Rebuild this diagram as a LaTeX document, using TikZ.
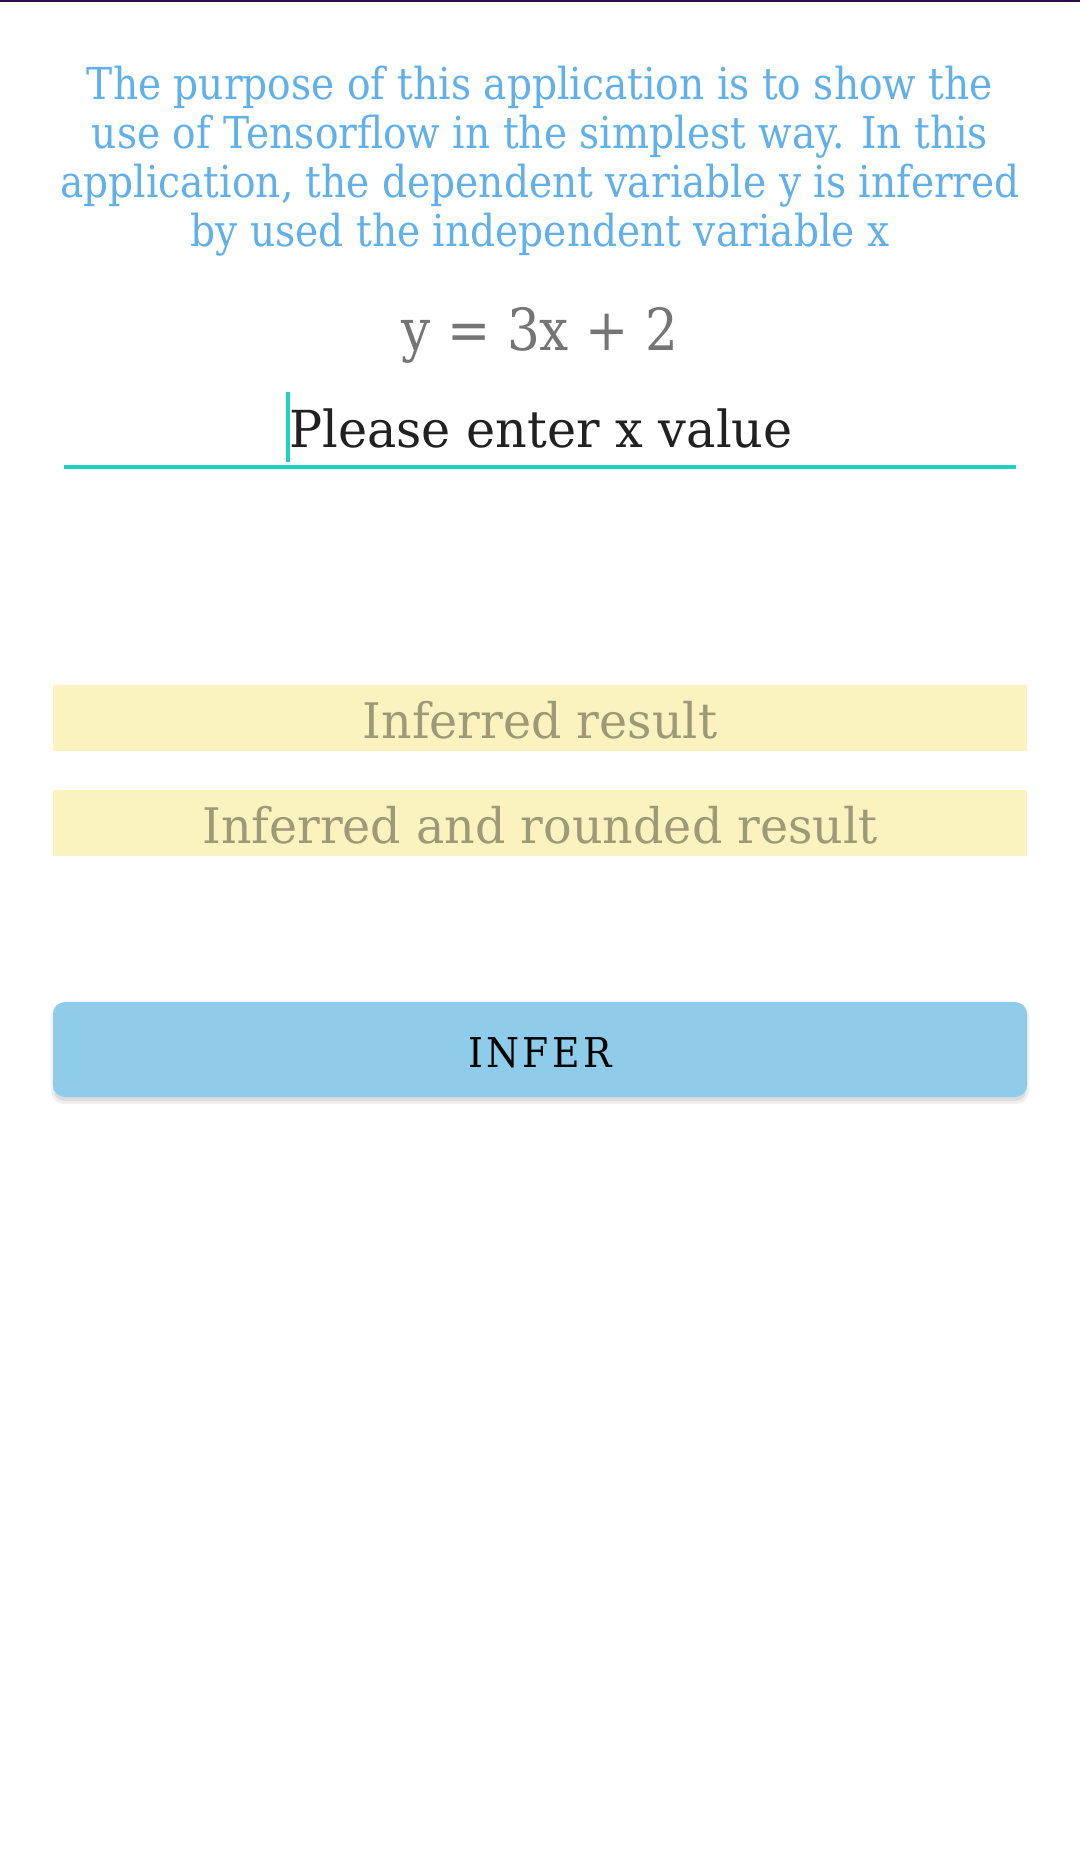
\documentclass[tikz,border=0pt]{standalone}
\usepackage{fontspec}
\setmainfont{DejaVu Serif}
\newfontfamily\infofont{DejaVu Serif}[FakeStretch=0.89]
\newfontfamily\eqfont{DejaVu Serif}[FakeStretch=0.89]
\newfontfamily\hintfont{DejaVu Serif}[FakeStretch=0.965]
\newfontfamily\resultfont{DejaVu Serif}[FakeStretch=0.97]
\newfontfamily\btnfont{DejaVu Serif}[LetterSpace=8,FakeStretch=0.92]
\definecolor{infoblue}{HTML}{62B0E8}
\definecolor{eqgray}{HTML}{757575}
\definecolor{hintblack}{HTML}{212121}
\definecolor{accentteal}{HTML}{1ED2C3}
\definecolor{resultyellow}{HTML}{FAF3C0}
\definecolor{resultolive}{HTML}{9E9A76}
\definecolor{buttonblue}{HTML}{8ECCE9}
\definecolor{barpurple}{HTML}{2E0A4F}

\begin{document}
\begin{tikzpicture}[x=1pt,y=-1pt,
  infotext/.style={inner sep=0pt,text=infoblue,align=center,font=\infofont\fontsize{44}{49}\selectfont},
  resulttext/.style={inner sep=0pt,anchor=base,text=resultolive,font=\resultfont\fontsize{49}{54}\selectfont},
]
\useasboundingbox[fill=white] (0,0) rectangle (1080,1858);
\fill[barpurple] (0,0) rectangle (1080,2);
\path node[infotext,anchor=north] (info) at (540,66) {The purpose of this application is to show the\\use of Tensorflow in the simplest way. In this\\application, the dependent variable y is inferred\\by used the independent variable x};
\path node[inner sep=0pt,anchor=base,text=eqgray,font=\eqfont\fontsize{58}{64}\selectfont] (equation) at (540,350) {y = 3x + 2};
\path node[inner sep=0pt,anchor=base,text=hintblack,font=\hintfont\fontsize{51}{56}\selectfont] (hint) at (541,447) {Please enter x value};
\fill[accentteal] (286,392) rectangle (290,462);
\fill[accentteal] (64,465) rectangle (1016,469);
\fill[resultyellow] (53,685) rectangle (1027,751);
\path node[resulttext] (result) at (540,738) {Inferred result};
\fill[resultyellow] (53,790) rectangle (1027,856);
\path node[resulttext] (rounded) at (540,843) {Inferred and rounded result};
\fill[black,opacity=0.06,rounded corners=13pt] (51,1003) rectangle (1029,1104);
\fill[black,opacity=0.08,rounded corners=12pt] (53,1003) rectangle (1027,1101);
\fill[buttonblue,rounded corners=12pt] (53,1002) rectangle (1027,1097);
\path node[inner sep=0pt,anchor=base,text=black,font=\btnfont\fontsize{41}{46}\selectfont] (infer) at (540,1067) {INFER};
\end{tikzpicture}
\end{document}
